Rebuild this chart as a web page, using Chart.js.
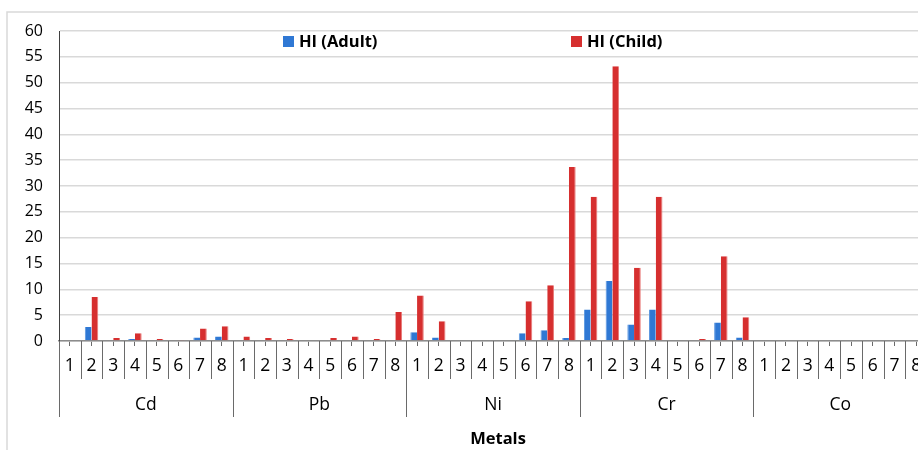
<!DOCTYPE html>
<html>
<head>
<meta charset="utf-8">
<script src="https://cdn.jsdelivr.net/npm/chart.js@4.4.1/dist/chart.umd.min.js"></script>
<style>
  html, body { margin: 0; padding: 0; background: #fff; overflow: hidden; }
  #wrap { position: relative; width: 918px; height: 450px; overflow: hidden; }
  #myChart { position: absolute; left: 0; top: 0; }
</style>
</head>
<body>
<div id="wrap"><canvas id="myChart" width="935" height="450"></canvas></div>
<script>
// groups on the x axis, each with samples 1..8
const metals = ['Cd', 'Pb', 'Ni', 'Cr', 'Co'];
const samples = ['1', '2', '3', '4', '5', '6', '7', '8'];

// HI values, per metal, samples 1..8
const adultCd = [0, 2.7, 0, 0.4, 0, 0, 0.7, 0.85];
const adultPb = [0, 0, 0, 0, 0, 0, 0, 0];
const adultNi = [1.7, 0.7, 0, 0, 0, 1.5, 2.1, 0.6];
const adultCr = [6.1, 11.6, 3.2, 6.1, 0, 0, 3.6, 0.7];
const adultCo = [0, 0, 0, 0, 0, 0, 0, 0];

const childCd = [0, 8.5, 0.6, 1.5, 0.4, 0.2, 2.4, 2.85];
const childPb = [0.85, 0.6, 0.4, 0, 0.6, 0.85, 0.4, 5.6];
const childNi = [8.8, 3.8, 0, 0, 0, 7.7, 10.8, 33.7];
const childCr = [27.9, 53.2, 14.2, 27.9, 0, 0.4, 16.4, 4.6];
const childCo = [0, 0, 0, 0, 0, 0, 0, 0];

const yTicks = [0, 5, 10, 15, 20, 25, 30, 35, 40, 45, 50, 55, 60];

const FONT = '"Open Sans", Lato, sans-serif';

var xLabels = [];
metals.forEach(() => samples.forEach(s => xLabels.push(s)));
var adultData = [].concat(adultCd, adultPb, adultNi, adultCr, adultCo);
var childData = [].concat(childCd, childPb, childNi, childCr, childCo);

// frame, category separators, group labels, axis title and legend
const excelBits = {
    id: 'excelBits',
    beforeDraw(chart) {
        const ctx = chart.ctx;
        ctx.save();
        ctx.strokeStyle = '#d9d9d9';
        ctx.lineWidth = 1.5;
        ctx.beginPath();
        ctx.moveTo(7, 450);
        ctx.lineTo(7, 12);
        ctx.lineTo(chart.width, 12);
        ctx.stroke();
        ctx.restore();
    },
    afterDraw(chart) {
        const ctx = chart.ctx;
        const x = chart.scales.x;
        const area = chart.chartArea;
        const n = xLabels.length;
        const step = (x.getPixelForValue(1) - x.getPixelForValue(0));
        ctx.save();
        ctx.strokeStyle = '#6a6a6a';
        ctx.lineWidth = 1;
        for (let i = 0; i <= n; i++) {
            const px = Math.round(x.getPixelForValue(i) - step / 2) + 0.5;
            const groupEdge = i % samples.length === 0;
            ctx.beginPath();
            ctx.moveTo(px, area.bottom);
            ctx.lineTo(px, groupEdge ? area.bottom + 76 : area.bottom + 38);
            ctx.stroke();
        }
        ctx.fillStyle = '#000';
        ctx.font = '17.5px ' + FONT;
        ctx.textAlign = 'center';
        ctx.textBaseline = 'middle';
        metals.forEach((m, g) => {
            const a = x.getPixelForValue(g * samples.length);
            const b = x.getPixelForValue(g * samples.length + samples.length - 1);
            ctx.fillText(m, (a + b) / 2, area.bottom + 64);
        });
        ctx.font = 'bold 16.5px ' + FONT;
        ctx.fillText('Metals', 498, 439);

        // legend inside plot
        const items = [[283, 0], [571, 1]];
        items.forEach(([lx, d]) => {
            const ds = chart.data.datasets[d];
            ctx.fillStyle = ds.backgroundColor;
            ctx.fillRect(lx, 36, 11, 11);
            ctx.fillStyle = '#000';
            ctx.textAlign = 'left';
            ctx.fillText(ds.label, lx + 16, 42);
        });
        ctx.restore();
    }
};

const ctx = document.getElementById('myChart').getContext('2d');
var myChart = new Chart(ctx, {
    type: 'bar',
    data: {
        labels: xLabels,
        datasets: [
            {
                label: 'HI (Adult)',
                data: adultData,
                backgroundColor: '#2f78d4',
                borderColor: '#5b97e0',
                borderWidth: { left: 1, right: 0, top: 0, bottom: 0 },
                borderSkipped: false,
                categoryPercentage: 0.62,
                barPercentage: 1.0
            },
            {
                label: 'HI (Child)',
                data: childData,
                backgroundColor: '#d62f2f',
                borderColor: '#e87a78',
                borderWidth: { left: 0, right: 1, top: 0, bottom: 0 },
                borderSkipped: false,
                categoryPercentage: 0.62,
                barPercentage: 1.0
            }
        ]
    },
    options: {
        responsive: false,
        animation: false,
        devicePixelRatio: 1,
        layout: { padding: { top: 31, left: 0, right: 8, bottom: 0 } },
        plugins: {
            legend: { display: false },
            tooltip: { enabled: false }
        },
        scales: {
            x: {
                afterFit(scale) { scale.height = 109; },
                grid: {
                    offset: false,
                    drawOnChartArea: false,
                    drawTicks: true,
                    tickLength: 5,
                    color: '#6a6a6a'
                },
                border: { display: true, color: '#8c8c8c', width: 1.5 },
                ticks: {
                    autoSkip: false,
                    maxRotation: 0,
                    padding: 10,
                    color: '#000',
                    font: { family: FONT, size: 17.5 }
                }
            },
            y: {
                min: 0,
                max: 60,
                afterFit(scale) { scale.width = 59; },
                afterBuildTicks(scale) { scale.ticks = yTicks.map(v => ({ value: v })); },
                grid: { color: '#d9d9d9', lineWidth: 1.5, drawTicks: false },
                border: { display: true, color: '#404040', width: 1 },
                ticks: {
                    padding: 16,
                    color: '#000',
                    font: { family: FONT, size: 16 }
                }
            }
        }
    },
    plugins: [excelBits]
});
</script>
</body>
</html>
